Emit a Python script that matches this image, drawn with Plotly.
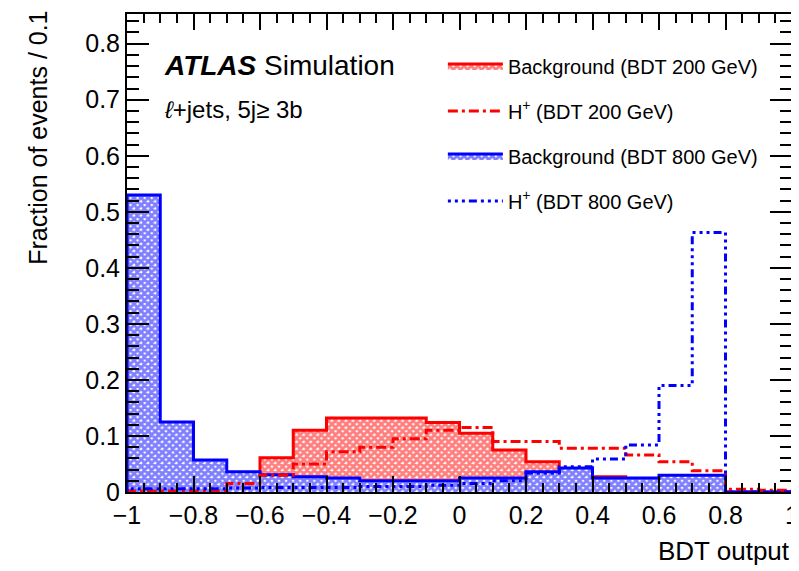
import plotly.graph_objects as go

# bin edges of the BDT output histograms (bin width 0.1)
bin_edges = [-1.0, -0.9, -0.8, -0.7, -0.6, -0.5, -0.4, -0.3, -0.2, -0.1, 0.0,
             0.1, 0.2, 0.3, 0.4, 0.5, 0.6, 0.7, 0.8, 0.9, 1.0]

bkg_200 = [0.002, 0.001, 0.005, 0.020, 0.061, 0.110, 0.132, 0.132, 0.132, 0.124,
           0.105, 0.075, 0.054, 0.042, 0.027, 0.020, 0.018, 0.015, 0.0, 0.0]
sig_200 = [0.002, 0.002, 0.002, 0.015, 0.030, 0.050, 0.072, 0.080, 0.095, 0.110,
           0.115, 0.090, 0.090, 0.078, 0.078, 0.066, 0.054, 0.038, 0.005, 0.003]
bkg_800 = [0.530, 0.125, 0.057, 0.036, 0.031, 0.027, 0.025, 0.020, 0.020, 0.020,
           0.025, 0.025, 0.036, 0.043, 0.025, 0.025, 0.030, 0.030, 0.0, 0.0]
sig_800 = [0.006, 0.006, 0.006, 0.007, 0.008, 0.008, 0.008, 0.010, 0.010, 0.012,
           0.015, 0.020, 0.034, 0.045, 0.059, 0.084, 0.190, 0.463, 0.0, 0.0]

x_ticks = [-1, -0.8, -0.6, -0.4, -0.2, 0, 0.2, 0.4, 0.6, 0.8, 1]
x_ticklabels = ["\u22121", "\u22120.8", "\u22120.6", "\u22120.4", "\u22120.2", "0",
                "0.2", "0.4", "0.6", "0.8", "1"]
y_ticks = [0, 0.1, 0.2, 0.3, 0.4, 0.5, 0.6, 0.7, 0.8]
y_ticklabels = ["0", "0.1", "0.2", "0.3", "0.4", "0.5", "0.6", "0.7", "0.8"]

names = ["Background (BDT 200 GeV)", "H<sup>+</sup> (BDT 200 GeV)",
         "Background (BDT 800 GeV)", "H<sup>+</sup> (BDT 800 GeV)"]


def step_xy(values):
    xs = [bin_edges[0]] + bin_edges[:-1] + [bin_edges[-1]]
    ys = [0.0] + list(values) + [0.0]
    return xs, ys


RED = "#ff0000"
BLUE = "#0000ff"
FONT = "Liberation Sans"

fig = go.Figure()

x, y = step_xy(bkg_200)
fig.add_trace(go.Scatter(
    x=x, y=y, mode="lines", line=dict(color=RED, width=3, shape="hv"),
    fill="tozeroy", fillcolor="rgba(0,0,0,0)",
    fillpattern=dict(shape="x", fgcolor=RED, bgcolor="white", size=5, solidity=0.8),
    name=names[0], legendrank=1, legendgroup="g1"))

x, y = step_xy(bkg_800)
fig.add_trace(go.Scatter(
    x=x, y=y, mode="lines", line=dict(color=BLUE, width=3, shape="hv"),
    fill="tozeroy", fillcolor="rgba(0,0,0,0)",
    fillpattern=dict(shape="x", fgcolor=BLUE, bgcolor="white", size=5, solidity=0.8),
    name=names[2], legendrank=3, legendgroup="g3"))

x, y = step_xy(sig_200)
fig.add_trace(go.Scatter(
    x=x, y=y, mode="lines",
    line=dict(color=RED, width=3, shape="hv", dash="10px,4px,3px,4px"),
    name=names[1], legendrank=2, legendgroup="g2"))

x, y = step_xy(sig_800)
fig.add_trace(go.Scatter(
    x=x, y=y, mode="lines",
    line=dict(color=BLUE, width=3, shape="hv", dash="3px,4px,3px,4px,3px,4px,8px,4px"),
    name=names[3], legendrank=4, legendgroup="g4"))

axis_common = dict(
    showline=True, linecolor="black", linewidth=2, mirror="allticks",
    ticks="inside", tickcolor="black", tickwidth=2,
    showgrid=False, zeroline=False,
    tickfont=dict(family=FONT, size=25, color="black"),
)

fig.update_xaxes(
    range=[-1, 1], tickmode="array", tickvals=x_ticks, ticktext=x_ticklabels,
    ticklen=16, ticklabeloverflow="allow",
    minor=dict(ticks="inside", dtick=0.05, tick0=0, ticklen=9, tickcolor="black",
               tickwidth=2, showgrid=False),
    **axis_common)
fig.update_yaxes(
    range=[0, 0.853], tickmode="array", tickvals=y_ticks, ticktext=y_ticklabels,
    ticklen=22, ticklabeloverflow="allow",
    minor=dict(ticks="inside", dtick=0.02, tick0=0, ticklen=12, tickcolor="black",
               tickwidth=2, showgrid=False),
    **axis_common)

# the page adds an 8 px body margin, so the figure is sized/offset to compensate
fig.update_layout(
    width=791, height=563,
    margin=dict(l=119, r=7, t=6, b=79, autoexpand=False),
    paper_bgcolor="white", plot_bgcolor="white",
    font=dict(family=FONT, color="black"),
    showlegend=True,
    legend=dict(x=0.475, y=0.932, xanchor="left", yanchor="top",
                bgcolor="rgba(0,0,0,0)", font=dict(family=FONT, size=20),
                tracegroupgap=16, itemwidth=55, traceorder="grouped"),
    annotations=[
        dict(text="<b><i>ATLAS</i></b> Simulation", x=0.053, y=0.893,
             xref="paper", yref="paper", xanchor="left", yanchor="middle",
             showarrow=False, font=dict(family=FONT, size=28, color="black")),
        dict(text="<i>\u2113</i>+jets, 5j\u2265 3b", x=0.053, y=0.80,
             xref="paper", yref="paper", xanchor="left", yanchor="middle",
             showarrow=False, font=dict(family=FONT, size=24, color="black")),
        dict(text="Fraction of events / 0.1", x=-0.133, y=1.01,
             xref="paper", yref="paper", xanchor="center", yanchor="top",
             textangle=-90, showarrow=False,
             font=dict(family=FONT, size=25, color="black")),
        dict(text="BDT output", x=1.0, y=-0.123,
             xref="paper", yref="paper", xanchor="right", yanchor="middle",
             showarrow=False, font=dict(family=FONT, size=26, color="black")),
    ],
)

fig.write_html("out.html")
